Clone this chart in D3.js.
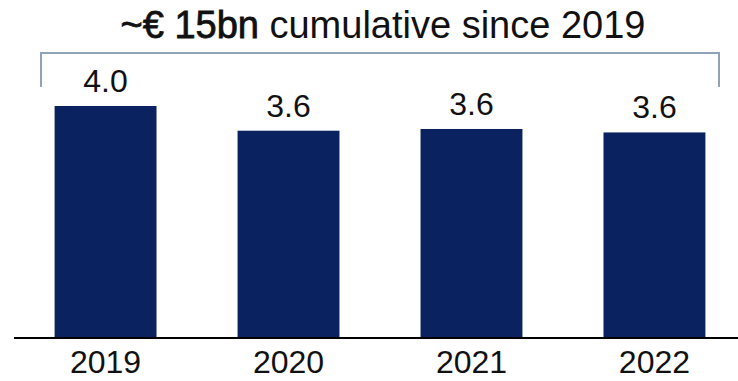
<!DOCTYPE html>
<html>
<head>
<meta charset="utf-8">
<script src="https://cdn.jsdelivr.net/npm/d3@7/dist/d3.min.js"></script>
<style>
  html, body { margin: 0; padding: 0; background: #fff; }
  svg { display: block; font-family: "Liberation Sans", Arial, sans-serif; }
</style>
</head>
<body>
<svg id="chart" width="738" height="381"></svg>
<script>
// Annual amounts (€ bn)
const years = ["2019", "2020", "2021", "2022"];
const amounts = [4.02, 3.59, 3.62, 3.56];
const titleStrong = "~€ 15bn";
const titleRest = " cumulative since 2019";

const svg = d3.select("#chart");

const x = d3.scaleBand()
  .domain(years)
  .range([18, 742])
  .paddingInner(0.443)
  .paddingOuter(0.2);

const y = d3.scaleLinear()
  .domain([0, 4.02])
  .range([337, 106]);

const fmt = d3.format(".1f");

// Title: emphasised total followed by plain text
const title = svg.append("text")
  .attr("x", 383)
  .attr("y", 38)
  .attr("text-anchor", "middle")
  .attr("font-size", 38)
  .attr("fill", "#111");
title.append("tspan")
  .attr("stroke", "#111")
  .attr("stroke-width", 0.8)
  .text(titleStrong);
title.append("tspan").text(titleRest);

// Bracket spanning all years
const bx0 = 41, bx1 = 719, by = 53, byEnd = 87;
svg.append("path")
  .attr("d", `M${bx0},${byEnd}V${by}H${bx1}V${byEnd}`)
  .attr("fill", "none")
  .attr("stroke", "#8fa2ba")
  .attr("stroke-width", 2);

const rows = years.map((yr, i) => ({ yr, v: amounts[i] }));

// Bars
svg.append("g").selectAll("rect")
  .data(rows)
  .join("rect")
  .attr("x", d => x(d.yr))
  .attr("y", d => y(d.v))
  .attr("width", x.bandwidth())
  .attr("height", d => y(0) - y(d.v))
  .attr("fill", "#0b2260");

// Value labels
svg.append("g").selectAll("text")
  .data(rows)
  .join("text")
  .attr("x", d => x(d.yr) + x.bandwidth() / 2)
  .attr("y", d => y(d.v) - 14)
  .attr("text-anchor", "middle")
  .attr("font-size", 32)
  .attr("fill", "#111")
  .text(d => fmt(d.v));

// Baseline
svg.append("line")
  .attr("x1", 14).attr("x2", 738)
  .attr("y1", 338).attr("y2", 338)
  .attr("stroke", "#000")
  .attr("stroke-width", 2);

// Category axis
const axis = svg.append("g")
  .attr("transform", "translate(0,338)")
  .call(d3.axisBottom(x).tickSize(0).tickPadding(12));
axis.select(".domain").remove();
axis.selectAll("text")
  .attr("font-size", 32)
  .attr("font-family", "\"Liberation Sans\", Arial, sans-serif")
  .attr("fill", "#111");
</script>
</body>
</html>
